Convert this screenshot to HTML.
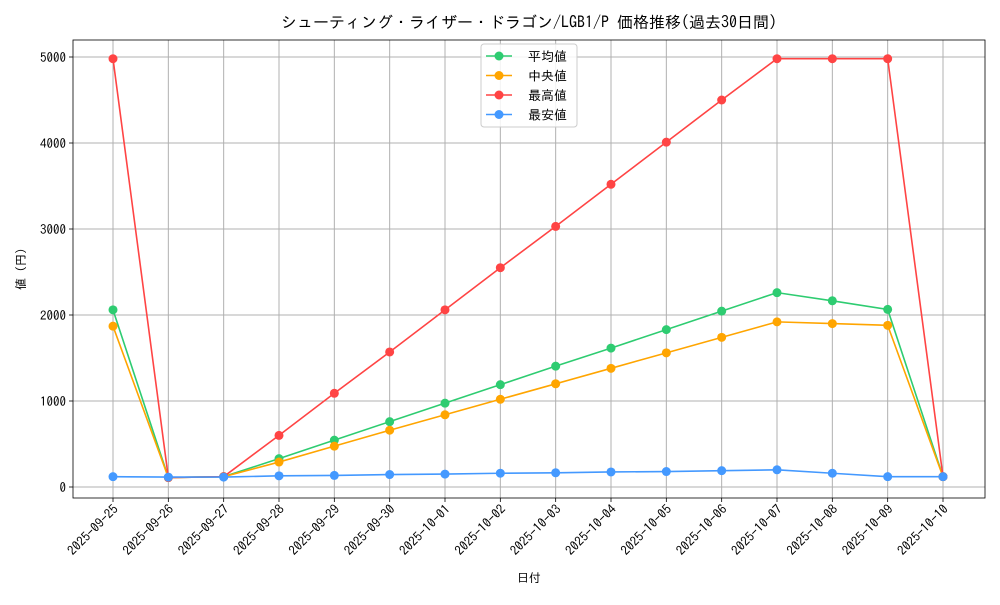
<!DOCTYPE html>
<html><head><meta charset="utf-8"><style>
body{margin:0;background:#fff;}
svg{font-family:"IPAGothic","Liberation Sans","Noto Sans CJK JP",sans-serif;}
</style></head><body>
<svg id="c" width="1000" height="600"></svg>
<script>
const dates=["2025-09-25","2025-09-26","2025-09-27","2025-09-28","2025-09-29","2025-09-30","2025-10-01","2025-10-02","2025-10-03","2025-10-04","2025-10-05","2025-10-06","2025-10-07","2025-10-08","2025-10-09","2025-10-10"];
const avgVals=[2060,110,120,330,545,760,975,1190,1405,1615,1830,2045,2260,2165,2065,120];
const medVals=[1870,110,120,290,475,660,840,1020,1200,1380,1560,1740,1920,1900,1880,120];
const maxVals=[4980,110,120,600,1090,1570,2060,2550,3030,3520,4010,4500,4980,4980,4980,120];
const minVals=[120,115,115,130,135,145,150,160,165,175,180,190,200,160,120,120];
const yTicks=[0,1000,2000,3000,4000,5000];
const seriesNames=["平均値","中央値","最高値","最安値"];
const colors=["#2ecc71","#ffa500","#ff4444","#4499ff"];
const series=[avgVals,medVals,maxVals,minVals];
const L=73,T=40,R=985,B=498;
const x=i=>113+i*(943-113)/(dates.length-1);
const y=v=>487-v*0.086;
const svg=document.getElementById('c');
const NS="http://www.w3.org/2000/svg";
function mk(tag,attrs,parent){const e=document.createElementNS(NS,tag);for(const k in attrs)e.setAttribute(k,attrs[k]);(parent||svg).appendChild(e);return e;}
dates.forEach((d,i)=>{
 const g=mk('line',{x1:x(i),x2:x(i),y1:T,y2:B,stroke:'#b0b0b0','stroke-width':1});
 
 
 mk('line',{x1:x(i),x2:x(i),y1:B,y2:B+4,stroke:'#000','stroke-width':0.8});
 const t=mk('text',{x:0,y:0,'font-size':13,'text-anchor':'end',transform:`translate(${x(i)+6},${B+12}) rotate(-45)`});
 t.textContent=d;
 
 
});
yTicks.forEach(v=>{
 const g=mk('line',{x1:L,x2:R,y1:y(v),y2:y(v),stroke:'#b0b0b0','stroke-width':1});
 
 
 mk('line',{x1:L-4,x2:L,y1:y(v),y2:y(v),stroke:'#000','stroke-width':0.8});
 const t=mk('text',{x:L-7,y:y(v)+5,'font-size':13,'text-anchor':'end'});
 t.textContent=v;
 
 
});
const fr=mk('rect',{x:L,y:T,width:R-L,height:B-T,fill:'none',stroke:'#000','stroke-width':0.8});


series.forEach((s,k)=>{
 const p=mk('polyline',{points:s.map((v,i)=>x(i)+','+y(v)).join(' '),fill:'none',stroke:colors[k],'stroke-width':1.6});
 
 
 s.forEach((v,i)=>{
  const c=mk('circle',{cx:x(i),cy:y(v),r:4.5,fill:colors[k]});
  
  
 });
});
const lg=mk('g',{});


mk('rect',{x:481,y:44,width:96,height:83,rx:3,fill:'#fff','fill-opacity':0.85,stroke:'#ccc'},lg);
seriesNames.forEach((n,k)=>{
 const yy=56+k*19.5;
 mk('line',{x1:486,x2:512,y1:yy,y2:yy,stroke:colors[k],'stroke-width':1.6},lg);
 mk('circle',{cx:499,cy:yy,r:4.5,fill:colors[k]},lg);
 const t=mk('text',{x:528,y:yy+5,'font-size':13},lg);
 t.textContent=n;
 
 
});
const tt=mk('text',{x:529,y:28,'font-size':16,'text-anchor':'middle'});
tt.textContent="シューティング・ライザー・ドラゴン/LGB1/P 価格推移(過去30日間)";


const xt=mk('text',{x:529,y:582,'font-size':12,'text-anchor':'middle'});
xt.textContent="日付";


const yt=mk('text',{x:0,y:0,'font-size':12,'text-anchor':'middle',transform:'translate(25,269) rotate(-90)'});
yt.textContent="値 (円)";


</script>
</body></html>
